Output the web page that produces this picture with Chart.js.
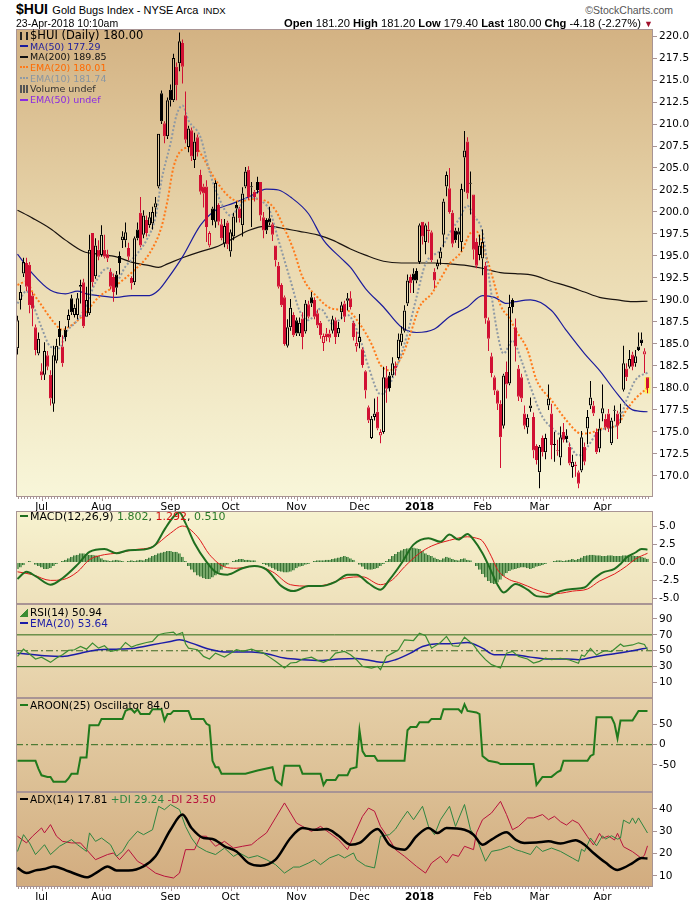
<!DOCTYPE html>
<html><head><meta charset="utf-8">
<script src="https://cdn.jsdelivr.net/npm/chart.js@4.4.1/dist/chart.umd.min.js"></script>
<style>
body{margin:0;background:#fff;width:700px;height:900px;overflow:hidden;position:relative;font-family:"DejaVu Sans",Verdana,sans-serif;}
canvas{position:absolute;left:0;}
.h{position:absolute;white-space:nowrap;font-family:"Liberation Sans",Arial,sans-serif;color:#000;line-height:14px;}
.lg{position:absolute;left:20px;white-space:nowrap;font-size:10.5px;line-height:12px;color:#000;}
.ln{display:inline-block;width:8px;height:2px;vertical-align:middle;margin-right:2px;position:relative;top:-1px;}
.dt{display:inline-block;width:8px;height:0;border-top:2px dotted;vertical-align:middle;margin-right:2px;position:relative;top:-1px;}
</style></head><body>
<script>
// ---------------- DATA ----------------
const monthIdx    = [8, 28, 51, 71, 93, 114, 134, 155, 174, 195];
const monthLabels = ['Jul','Aug','Sep','Oct','Nov','Dec','2018','Feb','Mar','Apr'];

const opens = [
184.5,190.0,193.0,194.2,194.0,190.5,186.9,183.9,181.9,181.5,
183.7,181.5,178.2,183.1,186.7,184.7,186.6,187.7,190.2,188.3,
188.3,191.7,192.0,188.1,188.5,197.6,192.7,195.7,195.1,195.7,
195.2,193.2,192.6,192.9,195.0,196.8,196.8,195.9,192.5,192.0,
198.0,199.9,197.4,199.1,198.5,198.7,200.5,202.9,213.5,210.1,
208.6,213.9,212.7,216.5,216.9,219.2,211.0,207.4,209.3,205.9,
208.5,204.2,202.9,202.9,196.2,200.4,198.9,200.8,198.6,196.4,
198.8,195.5,197.2,200.8,200.4,198.5,202.9,204.8,202.9,202.3,
203.4,203.4,199.4,199.1,199.3,198.6,196.2,193.9,191.7,190.3,
184.8,186.9,188.3,187.7,186.2,187.9,186.4,189.5,190.3,190.0,
188.5,187.4,185.1,186.2,186.2,186.5,187.7,186.2,188.6,189.6,
189.9,190.2,187.4,184.7,185.2,184.4,181.9,177.8,174.3,176.7,
177.3,174.6,175.0,181.2,181.4,181.4,182.5,183.4,185.2,186.5,
189.6,192.6,193.0,193.3,194.3,198.9,196.6,198.0,197.7,193.2,
193.8,194.7,197.4,202.9,202.7,199.9,197.9,197.8,196.6,206.2,
208.0,203.3,202.0,196.6,195.1,194.7,193.9,187.7,183.6,181.2,
179.7,178.2,175.7,181.8,180.5,190.0,186.9,182.2,181.2,177.1,
175.5,177.7,176.7,173.4,170.4,174.3,172.7,178.0,177.1,173.6,
172.9,172.1,175.0,174.6,173.3,171.0,171.3,170.4,170.6,173.3,
175.4,178.0,178.0,175.0,173.1,177.1,176.5,177.1,173.7,177.5,
177.1,177.2,179.8,182.2,182.4,183.8,182.8,184.7,185.5,183.8,181.2];
const highs = [
188.2,191.7,194.8,194.8,194.3,190.9,187.2,186.3,182.8,185.2,
184.2,182.0,184.8,185.6,187.6,186.0,187.0,188.9,190.6,189.5,
190.8,192.3,192.4,191.5,197.4,197.6,197.0,196.8,198.5,197.4,
195.7,193.6,193.0,193.3,195.5,197.8,198.8,196.5,192.7,197.2,
198.8,201.7,200.2,199.6,200.0,200.6,201.7,208.9,213.8,210.3,
213.0,214.5,218.0,217.0,220.4,219.6,213.7,209.8,209.6,209.0,
208.8,204.8,203.2,203.6,197.8,200.6,203.6,201.0,199.2,199.2,
199.0,198.0,199.9,201.2,200.6,202.8,205.1,205.2,203.4,202.5,
204.0,203.4,200.0,199.3,200.6,198.8,196.2,194.3,191.9,190.5,
187.8,190.1,188.6,188.0,188.0,188.6,190.0,189.9,190.9,190.3,
188.9,187.6,186.2,186.8,186.6,188.2,188.0,187.5,189.8,189.9,
190.8,191.0,187.6,186.4,188.4,184.6,182.0,178.0,176.8,178.8,
179.0,175.3,182.4,182.5,181.8,183.5,183.0,186.2,187.0,189.4,
192.9,192.9,193.6,193.6,198.7,198.9,198.7,198.9,197.9,193.6,
194.6,196.0,201.5,204.6,205.0,200.2,198.2,198.2,203.2,209.2,
208.5,204.6,202.0,197.0,197.4,198.0,194.3,188.0,184.0,181.4,
179.8,178.6,181.6,183.0,190.6,190.2,187.9,182.6,181.6,178.0,
177.0,178.9,177.2,173.6,173.5,174.6,174.8,180.4,178.2,175.0,
174.1,175.6,176.0,175.3,173.8,172.4,171.6,170.6,175.1,173.8,
177.5,180.8,178.5,175.4,176.5,180.4,177.0,177.6,176.6,178.0,
177.4,178.2,184.8,182.8,184.3,184.1,184.3,186.3,186.3,184.5,181.2];
const lows = [
183.8,188.9,192.6,191.0,188.5,187.0,183.7,183.7,180.9,180.9,
182.0,178.0,177.3,182.8,184.8,182.4,185.3,186.9,188.3,188.0,
187.8,189.6,186.8,188.1,188.3,191.5,192.4,194.5,194.9,194.7,
194.3,191.2,189.8,190.6,192.9,195.9,196.0,194.5,191.2,191.7,
196.8,196.0,197.0,197.2,198.2,198.0,199.5,202.7,210.0,207.8,
208.3,212.0,212.5,212.7,216.0,214.6,207.8,206.8,205.8,205.0,
206.3,202.0,200.5,196.6,196.0,198.5,198.2,198.5,196.8,196.0,
195.8,194.9,196.8,198.8,198.8,197.2,202.7,201.4,198.3,201.2,
202.1,199.0,197.0,197.5,198.5,196.7,193.8,191.3,189.2,184.8,
184.6,186.5,185.8,185.9,185.9,184.4,186.2,187.9,189.2,187.8,
186.8,185.6,184.2,185.3,185.2,186.2,185.0,185.8,187.8,187.5,
188.8,188.9,185.4,184.1,184.5,182.3,178.8,176.0,174.2,176.3,
175.2,173.7,174.8,178.3,179.6,181.2,181.4,183.2,184.8,186.3,
189.3,190.8,190.8,191.9,194.1,196.3,195.2,196.5,194.3,191.3,
193.5,194.0,196.0,201.8,199.8,196.0,196.5,195.9,195.5,202.3,
201.5,199.7,194.6,193.6,194.5,192.8,187.3,184.2,181.2,179.2,
177.5,170.9,175.4,178.8,180.3,188.5,183.0,178.5,178.4,175.3,
174.8,177.3,172.0,171.3,168.6,172.2,171.9,177.5,171.9,171.6,
172.3,171.2,173.8,173.8,171.2,169.8,169.9,168.6,170.4,171.2,
173.6,177.6,176.8,172.5,172.7,176.2,175.2,175.0,173.5,176.2,
174.2,176.0,179.6,180.8,182.2,182.0,182.4,184.2,184.8,181.7,179.4];
const closes = [
187.7,190.9,194.3,191.5,189.4,189.0,184.3,185.6,181.4,184.2,
182.4,178.8,183.7,184.8,185.8,182.8,185.8,188.3,188.6,189.1,
190.2,191.5,187.0,190.0,195.7,192.0,196.2,194.9,197.4,194.9,
194.7,191.5,190.9,191.4,194.2,197.2,197.7,194.9,191.9,197.0,
197.0,196.2,199.6,197.6,199.4,200.0,201.0,208.9,210.3,208.6,
212.7,212.7,217.5,214.4,219.4,216.5,208.2,209.5,206.3,208.0,
206.8,202.3,202.1,198.3,197.6,199.1,203.3,198.9,197.0,198.4,
196.3,197.7,199.5,200.4,199.3,202.1,204.6,201.7,202.8,201.7,
202.5,199.6,197.9,197.9,198.8,197.4,194.5,191.5,189.4,185.0,
186.9,189.1,186.0,186.2,187.4,185.8,189.6,188.1,189.6,188.1,
187.1,186.0,185.9,185.8,185.7,187.8,185.8,186.8,189.4,188.1,
190.2,189.2,185.8,185.1,185.8,182.6,179.7,176.3,176.5,177.1,
175.4,175.0,181.2,179.9,180.0,182.8,182.2,185.5,186.2,188.8,
192.2,191.9,192.2,192.2,198.5,197.2,198.5,197.8,194.5,192.2,
194.2,195.5,201.2,204.2,200.0,196.4,196.8,197.4,202.6,207.0,
202.1,203.2,195.7,193.9,196.2,196.6,187.9,185.6,181.7,179.7,
178.2,174.4,181.4,180.4,189.2,189.2,184.7,179.0,178.8,175.7,
176.6,178.0,172.9,171.8,173.3,172.7,174.3,178.8,173.5,173.5,
172.8,174.4,174.1,174.2,171.4,171.6,171.1,169.1,174.4,171.6,
176.7,178.9,177.1,172.7,175.4,177.7,175.5,175.4,176.3,177.4,
175.7,177.1,182.8,181.2,183.3,182.4,183.6,184.3,185.1,184.18,180.0];

const ma50 = [[0,195.2],[5,193.0],[11,191.1],[16,190.7],[20,191.0],[23,190.7],[27,190.5],[33,190.3],[38,190.5],[44,190.5],[47,191.1],[50,192.4],[55,194.9],[61,198.5],[66,200.2],[72,201.0],[77,201.7],[83,202.6],[87,202.5],[91,201.7],[97,199.8],[102,196.8],[108,194.7],[111,193.7],[116,191.3],[122,189.2],[128,186.9],[133,186.3],[139,186.7],[144,188.1],[150,189.2],[155,190.5],[159,190.3],[163,189.6],[166,189.8],[171,190.0],[178,188.8],[183,186.5],[189,183.9],[194,182.0],[200,179.3],[205,177.5],[210,177.29]];
const ma200 = [[0,200.2],[5,199.3],[11,198.1],[16,196.8],[22,195.5],[27,195.2],[33,194.9],[38,194.3],[44,193.9],[47,193.7],[50,194.1],[55,194.8],[61,195.5],[66,196.0],[72,197.0],[77,197.9],[83,198.4],[86,198.3],[89,198.1],[94,197.8],[100,197.4],[105,196.8],[111,195.8],[116,195.1],[122,194.4],[128,194.2],[133,194.2],[139,194.2],[144,194.1],[150,193.9],[155,193.6],[161,193.1],[166,193.0],[172,192.8],[178,192.1],[183,191.6],[189,190.9],[194,190.3],[200,190.0],[205,189.8],[210,189.85]];
const ema20 = [[0,191.7],[3,192.1],[5,190.9],[8,189.4],[12,187.5],[15,186.6],[17,186.9],[22,188.3],[27,190.3],[33,191.7],[39,193.4],[44,195.3],[48,198.3],[50,201.3],[52,205.1],[55,207.1],[59,207.4],[62,206.1],[65,204.2],[70,201.9],[74,201.2],[79,201.5],[83,201.2],[86,200.2],[89,198.1],[92,195.7],[95,192.6],[100,190.3],[105,189.0],[110,188.8],[114,187.3],[118,185.0],[121,182.6],[124,182.0],[128,183.5],[131,186.2],[134,189.2],[138,190.7],[141,192.4],[144,194.1],[148,195.5],[151,197.6],[153,197.8],[155,196.2],[158,193.0],[161,189.4],[164,187.9],[166,186.6],[170,184.3],[173,180.9],[178,178.6],[183,176.3],[188,174.8],[191,174.9],[195,175.4],[200,175.8],[203,177.5],[206,178.8],[210,180.01]];
const ema10 = [[0,189.6],[3,191.0],[5,189.6],[8,186.9],[11,184.7],[14,184.5],[16,186.2],[20,187.7],[23,189.4],[26,192.0],[30,193.6],[33,192.2],[36,193.8],[40,195.3],[43,196.8],[46,199.4],[48,203.6],[51,207.8],[53,211.0],[55,212.1],[57,210.4],[61,208.5],[64,204.6],[67,201.7],[71,199.6],[74,200.6],[77,201.7],[81,201.3],[84,200.2],[87,196.8],[91,192.2],[94,188.8],[97,187.7],[101,189.0],[105,187.3],[110,188.3],[114,185.8],[117,182.4],[121,179.3],[123,179.7],[126,182.0],[130,186.2],[133,190.3],[136,194.1],[141,195.7],[144,197.6],[147,199.1],[150,200.7],[152,199.6],[155,197.7],[157,193.0],[160,186.2],[162,183.9],[165,185.4],[168,183.1],[171,180.1],[175,176.7],[179,175.2],[183,174.0],[187,172.3],[190,173.3],[193,174.8],[196,175.4],[200,175.8],[203,178.6],[206,180.9],[210,181.74]];

const macdLine = [[0,-2.3],[3,-1.3],[6,-1.9],[11,-3.1],[15,-2.2],[20,-0.3],[24,1.5],[29,1.9],[33,1.3],[37,1.7],[42,1.8],[46,2.5],[49,4.6],[52,6.4],[54,7.0],[56,5.5],[59,2.7],[63,0.1],[66,-1.3],[70,-1.7],[75,-0.8],[79,-0.5],[83,-1.0],[88,-3.3],[92,-4.0],[97,-3.3],[101,-3.3],[106,-2.7],[110,-1.7],[113,-1.7],[117,-2.9],[121,-3.8],[124,-2.4],[128,-0.1],[132,2.5],[137,3.4],[141,2.9],[144,3.9],[147,3.2],[150,4.0],[152,3.2],[155,1.3],[158,-1.3],[160,-3.1],[162,-4.2],[166,-3.0],[170,-3.8],[173,-4.7],[176,-4.8],[181,-4.0],[185,-3.7],[189,-3.5],[192,-2.3],[195,-1.4],[199,-0.9],[201,-0.2],[203,0.7],[206,1.4],[208,1.9],[210,1.80]];
const macdSignal = [[0,-1.3],[5,-1.7],[11,-2.5],[15,-2.4],[20,-1.3],[24,0.4],[29,1.1],[33,1.3],[39,1.8],[45,2.2],[51,4.1],[55,5.1],[60,3.6],[64,1.1],[69,-0.6],[73,-0.8],[79,-0.5],[85,-1.3],[91,-3.1],[97,-3.3],[103,-3.1],[109,-2.2],[115,-2.0],[121,-3.1],[125,-2.4],[129,-0.6],[134,1.3],[138,2.3],[144,3.1],[150,3.6],[153,3.4],[155,3.0],[158,0.8],[160,-1.0],[164,-2.4],[167,-2.8],[170,-3.3],[174,-4.0],[178,-4.4],[181,-4.3],[185,-4.0],[190,-3.7],[194,-2.6],[199,-1.6],[203,-0.5],[206,0.5],[210,1.29]];
const macdHist = [
-0.9,-0.7,-0.4, 0.1,0.2,0.1, -0.3,-0.5,-0.7,-0.9,-0.9,-0.8,-0.5,-0.2, 0.0,0.2,0.4,
0.6,0.8,1.0,1.1,1.3,1.3, 1.2,1.1,1.1,1.0,0.9,0.6,0.4,0.3, 0.2,0.3,0.4,0.3,0.2,0.1,0.2,0.3,
0.2,0.3,0.4,0.3,0.5,0.7,0.9, 1.1,1.3,1.4,1.5,1.6,1.6,1.5,1.5,1.3,0.8,
0.2,-0.5,-1.0,-1.4,-1.8,-2.0,-2.2,-2.3,-2.3, -2.1,-1.8,-1.4,-1.0,-0.6,-0.3,-0.1,
0.2,0.4,0.5,0.5,0.4,0.4,0.3,0.3,0.1,0.0,-0.2,-0.4,
-0.6,-0.8,-1.0,-1.2,-1.3,-1.4,-1.4,-1.3,-1.1,-0.8,-0.6,-0.5,-0.3,-0.2,0.0,
0.2,0.3,0.3,0.3,0.4,0.4,0.5,0.6,0.7,0.8,0.9,0.8,0.6,0.4,0.1,
-0.3,-0.6,-0.9,-1.0,-1.0,-0.9,-0.8,-0.5,-0.2,
0.2,0.5,0.9,1.2,1.5,1.7,1.9,2.0,2.0,2.1,2.0,1.9,1.6,1.3,1.1,0.9,0.7,0.5,0.4,
0.6,0.8,0.7,0.5,0.4,0.3,0.5,0.6,0.4,0.3,
0.0,-0.5,-1.0,-1.6,-2.1,-2.6,-2.9,-3.0,-2.8,-2.4,-1.9,-1.5,-1.2,-1.0,
-0.9,-0.8,-0.7,-0.7,-0.8,-0.9,-0.8,-0.6,-0.5,-0.4,-0.2,
0.0,0.1,0.2,0.3,0.3,0.2,0.3,0.4,0.5,0.4,0.5,
0.7,0.9,1.0,1.1,1.1,1.0,1.0,0.9,0.9,1.0,1.0,0.9,0.9,0.9,1.0,1.0,1.1,1.0,0.9,0.9,0.8,0.7,0.51];

const rsi = [[0,42.9],[2,52],[4,46],[6,39.6],[8,42],[11,35.4],[13,40.8],[15,45],[17,50.4],[19,51.3],[21,55.4],[23,52],[25,59.6],[27,53.3],[29,56.3],[31,49.2],[34,51.3],[36,60.4],[38,54.6],[40,57.5],[43,60.4],[45,61.7],[47,70],[49,72],[52,73.3],[53,70],[55,73],[56,58.8],[57,53.3],[60,51.3],[62,42.9],[64,39.6],[66,47],[69,42],[71,47],[73,51.3],[75,49.2],[78,52],[80,49.2],[82,47],[84,42],[86,36.7],[89,28.3],[91,34.6],[93,35.4],[95,39.6],[98,42],[100,37.9],[102,35.4],[104,38.8],[106,47],[109,49.2],[111,45],[113,38.8],[115,30.4],[118,28.3],[120,30.4],[121,26.3],[123,42.9],[125,47],[127,51.3],[129,63.8],[132,62.9],[134,72],[136,68.8],[138,53.3],[141,60.4],[143,68],[145,56.3],[147,55.4],[149,67],[152,57.5],[154,47],[156,38.8],[158,32.5],[161,28.3],[163,47],[165,49.2],[167,42.9],[170,39.6],[172,34.6],[174,36.7],[176,40.8],[178,38.8],[181,40.5],[184,38.4],[187,34.2],[188,44.6],[189,43],[191,53],[193,44.6],[195,48.8],[196,50],[198,49],[201,58.4],[202,55.6],[205,57.3],[207,60],[209,58],[210,50.94]];
const rsiEma = [[0,47],[9,43.8],[15,42.9],[21,47],[27,51.3],[33,52],[39,53.3],[45,57.5],[51,61.7],[54,63.8],[58,59.6],[64,52],[70,48.3],[78,48.3],[83,46.3],[89,40.8],[95,38.8],[101,37.9],[107,39.6],[113,40.4],[119,36.7],[122,35.4],[126,38.8],[131,47],[135,55.4],[140,58.8],[144,58.8],[150,60.4],[155,53.3],[159,45],[165,45],[171,42],[177,39.6],[183,39.6],[187,38.8],[193,42.9],[199,46.3],[205,50],[210,53.64]];
const rsiLevels = [30, 50, 70];

const aroon = [[0,-40],[6,-40],[7,-60],[8,-76],[10,-80],[11,-80],[12,-92],[16,-92],[17,-84],[18,-72],[20,-72],[21,-32],[23,-32],[24,48],[27,48],[28,64],[35,64],[36,84],[37,88],[38,88],[39,80],[40,88],[41,76],[44,76],[45,88],[48,88],[49,60],[50,76],[51,76],[52,84],[57,84],[58,64],[62,64],[63,52],[64,48],[65,-40],[66,-56],[67,-56],[68,-72],[76,-72],[80,-64],[85,-56],[86,-88],[88,-100],[89,-52],[94,-52],[95,-72],[101,-72],[102,-100],[103,-88],[106,-88],[107,-76],[110,-76],[111,-60],[113,-56],[114,36],[115,-16],[116,-28],[119,-28],[120,-40],[129,-40],[130,36],[131,44],[133,44],[134,56],[137,56],[138,64],[141,64],[142,88],[147,88],[148,80],[149,100],[150,84],[153,80],[154,76],[155,-28],[157,-40],[160,-44],[161,-48],[172,-48],[173,-100],[175,-80],[178,-80],[180,-68],[181,-64],[182,-40],[190,-40],[191,-28],[192,-24],[193,68],[198,68],[199,52],[200,16],[201,60],[205,60],[206,72],[207,84],[210,84]];

const adx = [[0,13.6],[3,11.3],[6,12.5],[9,13.1],[12,14.3],[17,12.1],[21,10.1],[23,9.4],[27,12.1],[30,14.3],[33,12.5],[37,12.5],[42,14.3],[46,18.8],[51,30.7],[55,37.5],[58,31.5],[62,27],[65,26.6],[69,23.3],[73,21],[77,15.8],[81,14.6],[86,17.3],[91,27],[95,31.5],[99,30.7],[103,31],[107,28],[111,24],[114,24.8],[120,31],[124,24],[129,21.8],[133,27.8],[137,31.5],[140,29.3],[143,31.5],[149,30.7],[152,28.5],[155,24],[158,26.3],[163,29.6],[166,26.3],[169,24.8],[173,25],[177,25.5],[181,24.5],[186,26],[189,24],[192,20.3],[196,16],[200,12.7],[202,13.6],[205,15.8],[208,18],[210,17.81]];
const plusDI = [[0,21],[2,28.5],[4,24.8],[6,19.6],[9,24],[11,19.6],[14,23.3],[16,24.8],[18,26.3],[20,24],[23,21],[24,29.3],[26,25.5],[28,27],[31,24],[33,18.8],[35,21],[37,25.5],[40,30],[42,28.5],[45,30.7],[47,41.2],[49,39.7],[51,42],[54,39.7],[56,32.2],[58,27],[60,23.3],[63,21],[66,19.6],[69,22.5],[72,18.8],[74,20.3],[77,18.1],[80,19.1],[83,17.3],[86,15.1],[89,11.3],[92,14],[94,14],[97,15.8],[99,17.3],[101,15.1],[104,18.1],[107,19.6],[109,18.1],[112,20.3],[113,17.3],[116,14.6],[119,13.6],[121,27.8],[124,28.5],[126,31],[128,35.2],[130,39],[132,35.2],[135,41.2],[137,32.2],[139,28.5],[141,35.2],[144,41.2],[146,32.2],[149,42],[151,30.7],[153,27],[156,16.6],[158,21],[161,21.8],[164,23.3],[166,21.8],[168,21],[171,19.6],[173,23.3],[175,21],[178,22.5],[181,21],[185,18],[187,16.5],[188,22],[189,21],[191,27],[193,23.5],[195,28],[196,26.5],[198,28],[200,26.5],[201,27],[202,35],[204,33.5],[205,36],[206,33.5],[207,36],[210,29.24]];
const minusDI = [[0,27.8],[3,24.8],[5,27.8],[8,31.5],[9,29.3],[11,33],[13,27.8],[15,25.5],[18,24.8],[21,24.8],[23,21.8],[26,17.3],[30,19.6],[32,20.3],[34,17.3],[37,21.8],[40,16.6],[43,14.3],[46,11.3],[49,9.9],[52,9.1],[54,11.3],[56,21.8],[59,21.8],[61,27.8],[63,27.8],[66,23.3],[69,25.5],[72,22.5],[75,23.3],[78,24],[80,26.3],[83,29.3],[86,36],[89,42.7],[91,38.2],[93,33.7],[95,32.2],[98,30],[101,32.2],[104,29.3],[107,26.3],[110,21.8],[112,27.8],[115,36.7],[117,40.4],[119,39],[121,32.2],[124,26.3],[126,21.8],[129,18.8],[133,14.3],[136,11.3],[138,15.8],[141,18.8],[143,15.8],[145,19.6],[147,18.8],[149,23.3],[152,21.8],[153,29.3],[155,35.2],[158,38.2],[161,43.4],[163,37.5],[165,30.7],[167,32.2],[170,36],[172,36],[175,37.5],[177,35.2],[179,36.7],[181,34.3],[183,32.8],[185,35],[187,33.6],[190,27.6],[192,23.9],[194,29.1],[195,26.9],[197,27.9],[199,26.1],[200,29.1],[202,23.1],[205,20.9],[208,17.9],[209,19.4],[210,23.5]];

const priceTicks = [170,172.5,175,177.5,180,182.5,185,187.5,190,192.5,195,197.5,200,202.5,205,207.5,210,212.5,215,217.5,220];
const macdTicks  = [-5,-2.5,0,2.5,5];
const rsiTicks   = [10,30,50,70,90];
const aroonTicks = [-50,0,50];
const adxTicks   = [10,20,30,40];

// ---------------- STYLE / LAYOUT ----------------
const FONT = '"DejaVu Sans", Verdana, sans-serif';
const BORDER = '#a89494';
const RED = '#d11033', BLACK = '#000000';
const xMin = -0.5, xMax = 211.8333;
const P = 10;

function hex(c){return [parseInt(c.slice(1,3),16),parseInt(c.slice(3,5),16),parseInt(c.slice(5,7),16)];}
function mixAt(y){
  const a=hex('#f7f2cf'), b=hex('#d2ac7f'); const t=Math.max(0,Math.min(1,(y-511)/(887-511)));
  return 'rgb('+a.map((v,k)=>Math.round(v+(b[k]-v)*t)).join(',')+')';
}

function panelPlugin(stops, xMarks){
  return {
    id:'panel',
    beforeDraw(chart){
      const {ctx, chartArea:a} = chart;
      const g = ctx.createLinearGradient(0,a.top,0,a.bottom);
      stops.forEach(s=>g.addColorStop(s[0],s[1]));
      ctx.save(); ctx.fillStyle=g; ctx.fillRect(a.left,a.top,a.right-a.left,a.bottom-a.top); ctx.restore();
    },
    afterDraw(chart){
      const {ctx, chartArea:a} = chart;
      ctx.save();
      ctx.strokeStyle=BORDER; ctx.lineWidth=1;
      ctx.strokeRect(a.left+0.5,a.top+0.5,a.right-a.left-1,a.bottom-a.top-1);
      if (xMarks){
        const xs = chart.scales.x;
        ctx.beginPath();
        for (let i=0;i<closes.length;i++){ const px=Math.round(xs.getPixelForValue(i))+0.5; ctx.moveTo(px,a.bottom); ctx.lineTo(px,a.bottom+2); }
        monthIdx.forEach(v=>{ const px=Math.round(xs.getPixelForValue(v))+0.5; ctx.moveTo(px,a.bottom); ctx.lineTo(px,a.bottom+4); });
        ctx.stroke();
      }
      ctx.restore();
    }
  };
}

function xScale(show){
  return {
    type:'linear', min:xMin, max:xMax, display:show, offset:false,
    afterBuildTicks: s => { s.ticks = monthIdx.map(v=>({value:v})); },
    afterFit: s => { if (show) s.height = 14; else s.height = 0; },
    grid:{display:false}, border:{display:false},
    ticks:{autoSkip:false, maxRotation:0, minRotation:0, padding:-4, color:'#000',
      font: c => ({family:FONT, size:10.5, weight: (c.tick && monthLabels[monthIdx.indexOf(c.tick.value)]==='2018') ? 'bold':'normal'}),
      callback: v => monthLabels[monthIdx.indexOf(v)] }
  };
}
function yScale(min,max,ticks,fmt){
  return {
    type:'linear', position:'right', min, max,
    afterBuildTicks: s => { s.ticks = ticks.map(v=>({value:v})); },
    afterFit: s => { s.width = 47; },
    grid:{drawOnChartArea:false, drawTicks:true, tickLength:4, color:BORDER},
    border:{display:false},
    ticks:{padding:2, color:'#000', font:{family:FONT,size:10.5}, callback: fmt}
  };
}
const toXY = arr => arr.map(p => ({x:p[0], y:p[1]}));
function lineDS(data,color,width,extra){
  return Object.assign({type:'line', data:toXY(data), borderColor:color, borderWidth:width, pointRadius:0, fill:false, tension:0}, extra||{});
}
function levelDS(v,color,dash){
  return {type:'line', data:[{x:xMin,y:v},{x:xMax,y:v}], borderColor:color, borderWidth:1, pointRadius:0, borderDash:dash||[]};
}

function makeChart(top,bottom,hasX,stops,datasets,yCfg){
  const c = document.createElement('canvas');
  const h = P + (bottom-top) + (hasX?14:P);
  c.width=700; c.height=h; c.style.width='700px'; c.style.height=h+'px'; c.style.top=(top-P)+'px';
  document.body.appendChild(c);
  return new Chart(c, {
    type:'line',
    data:{datasets},
    options:{
      responsive:false, animation:false, devicePixelRatio:1,
      layout:{padding:{left:16,right:0,top:P,bottom:hasX?0:P}},
      plugins:{legend:{display:false}, tooltip:{enabled:false}},
      scales:{x:xScale(hasX), y:yCfg},
      events:[]
    },
    plugins:[panelPlugin(stops,hasX)]
  });
}

// ---------------- MAIN PRICE PANEL ----------------
const cColor = closes.map((c,i)=> (i===0 || c>=closes[i-1]) ? BLACK : RED);
const hollow = closes.map((c,i)=> c>opens[i]);
const last = closes.length-1;
makeChart(29,497,true,[[0,'#d3b283'],[0.45,'#e9d7ad'],[1,'#f8f6d9']],[
  {type:'bar', grouped:false, barThickness:3, minBarLength:1, inflateAmount:0, borderWidth:1, borderSkipped:false,
   data: closes.map((c,i)=>({x:i, y:[Math.min(opens[i],c), Math.max(opens[i],c)]})),
   backgroundColor: cColor.map((col,i)=> hollow[i] ? 'rgba(0,0,0,0)' : col), borderColor: cColor},
  {type:'bar', grouped:false, barThickness:1, inflateAmount:0, borderWidth:0,
   data: closes.map((c,i)=>({x:i, y:[Math.max(opens[i],c), highs[i]]})), backgroundColor:cColor},
  {type:'bar', grouped:false, barThickness:1, inflateAmount:0, borderWidth:0,
   data: closes.map((c,i)=>({x:i, y:[lows[i], Math.min(opens[i],c)]})), backgroundColor:cColor},
  lineDS(ema10,'#8e99a4',2,{borderDash:[2,2], cubicInterpolationMode:'monotone'}),
  lineDS(ema20,'#ff7a1a',2,{borderDash:[2,2], cubicInterpolationMode:'monotone'}),
  lineDS(ma50,'#1c1c9c',1.2,{cubicInterpolationMode:'monotone'}),
  lineDS(ma200,'#1a1410',1.2,{cubicInterpolationMode:'monotone'}),
  {type:'bar', grouped:false, barThickness:5, borderWidth:0, data:[{x:last, y:[lows[last], highs[last]]}], backgroundColor:'#fff45a'}
], yScale(167.6,220.8,priceTicks,v=>v.toFixed(1)));

// ---------------- MACD ----------------
makeChart(511,604,false,[[0,mixAt(511)],[1,mixAt(604)]],[
  lineDS(macdLine,'#1f6e1f',2,{cubicInterpolationMode:'monotone'}),
  lineDS(macdSignal,'#e0191b',1,{cubicInterpolationMode:'monotone'}),
  {type:'bar', grouped:false, barThickness:3, inflateAmount:0, borderSkipped:false,
   borderWidth:{left:1,right:0,top:0,bottom:0}, borderColor:'#3a7235', backgroundColor:'#78a86a',
   data: macdHist.map((v,i)=>({x:i,y:v}))}
], yScale(-5.8,7.2,macdTicks,v=>v.toFixed(1)));

// ---------------- RSI ----------------
makeChart(604,698,false,[[0,mixAt(604)],[1,mixAt(698)]],[
  lineDS(rsi,'#3b8c32',1.2),
  lineDS(rsiEma,'#1c1ca8',1.5,{cubicInterpolationMode:'monotone'}),
  levelDS(rsiLevels[2],'#2b6a16'),
  levelDS(rsiLevels[1],'#3d6a24',[7,3,2,3]),
  levelDS(rsiLevels[0],'#2b6a16')
], yScale(-9.4,108.8,rsiTicks,v=>String(v)));

// ---------------- AROON ----------------
makeChart(698,792,false,[[0,mixAt(698)],[1,mixAt(792)]],[
  lineDS(aroon,'#217a1c',2),
  levelDS(0,'#2d6a1d',[7,3,2,3])
], yScale(-117.5,116,aroonTicks,v=>String(v)));

// ---------------- ADX ----------------
makeChart(792,887,true,[[0,mixAt(792)],[1,mixAt(887)]],[
  lineDS(adx,'#000000',2.5,{cubicInterpolationMode:'monotone'}),
  lineDS(plusDI,'#2e8540',1),
  lineDS(minusDI,'#b8123c',1)
], yScale(5.07,47.6,adxTicks,v=>String(v)));
</script>

<!-- header -->
<div class="h" style="left:16px;top:2px;"><b style="font-size:14px">$HUI</b> <span style="font-size:11px">Gold Bugs Index - NYSE Arca</span> <span style="font-size:9.5px">INDX</span></div>
<div class="h" style="right:27px;top:3px;font-size:10.5px;color:#555;">©StockCharts.com</div>
<div class="h" style="left:16px;top:16px;font-size:10.5px;">23-Apr-2018 10:10am</div>
<div class="h" style="right:47px;top:16px;font-size:11.2px;"><b>Open</b> 181.20 <b>High</b> 181.20 <b>Low</b> 179.40 <b>Last</b> 180.00 <b>Chg</b> -4.18 (-2.27%) <span style="color:#a0102c;font-size:9px">&#9660;</span></div>

<!-- main legend -->
<div class="lg" style="top:29px;font-size:11.5px;"><span style="display:inline-block;width:8px;height:8px;margin-right:2px;vertical-align:-1px;border-left:2px solid #222;border-right:2px solid #222;box-sizing:border-box;"></span>$HUI (Daily) 180.00</div>
<div class="lg" style="top:40.5px;font-size:9.5px;color:#1c1c9c;"><span class="ln" style="background:#1c1c9c"></span>MA(50) 177.29</div>
<div class="lg" style="top:51.2px;font-size:9.5px;color:#111;"><span class="ln" style="background:#111"></span>MA(200) 189.85</div>
<div class="lg" style="top:61.9px;font-size:9.5px;color:#ff6a00;"><span class="dt" style="border-color:#ff7a1a"></span>EMA(20) 180.01</div>
<div class="lg" style="top:72.6px;font-size:9.5px;color:#8a96a2;"><span class="dt" style="border-color:#8e99a4"></span>EMA(10) 181.74</div>
<div class="lg" style="top:83.3px;font-size:9.5px;color:#333;"><span style="display:inline-block;width:8px;height:8px;margin-right:2px;vertical-align:-1px;background:linear-gradient(90deg,#555 0 2px,transparent 2px 3px,#555 3px 5px,transparent 5px 6px,#555 6px 8px);"></span>Volume undef</div>
<div class="lg" style="top:94px;font-size:9.5px;color:#8a2be2;"><span class="ln" style="background:#8a2be2"></span>EMA(50) undef</div>

<!-- indicator legends -->
<div class="lg" style="top:511px;font-size:11px;"><span class="ln" style="background:#1f6e1f"></span>MACD(12,26,9) <span style="color:#2a7a2a">1.802</span>, <span style="color:#d01010">1.292</span>, <span style="color:#2a7a2a">0.510</span></div>
<div class="lg" style="top:606px;"><span style="display:inline-block;width:8px;height:8px;margin-right:2px;vertical-align:-1px;background:linear-gradient(135deg,transparent 45%,#3b8c32 45%);"></span>RSI(14) 50.94</div>
<div class="lg" style="top:617px;color:#1c1ca8;"><span class="ln" style="background:#1c1ca8"></span><span style="color:#1c1ca8">EMA(20) 53.64</span></div>
<div class="lg" style="top:699px;"><span class="ln" style="background:#217a1c"></span>AROON(25) Oscillator 84.0</div>
<div class="lg" style="top:793px;"><span class="ln" style="background:#000"></span>ADX(14) 17.81 <span style="color:#2e8540">+DI 29.24</span> <span style="color:#b8123c">-DI 23.50</span></div>
</body></html>
